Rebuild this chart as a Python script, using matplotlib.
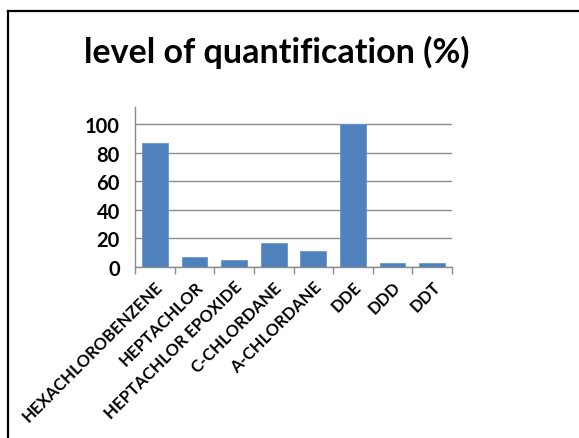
import matplotlib
matplotlib.use("Agg")
import matplotlib.pyplot as plt
from matplotlib.lines import Line2D
import numpy as np

categories = ["HEXACHLOROBENZENE", "HEPTACHLOR", "HEPTACHLOR EPOXIDE", "C-CHLORDANE",
              "A-CHLORDANE", "DDE", "DDD", "DDT"]
values = [87, 7, 4.7, 16.5, 11, 100, 2.8, 2.8]
yticks = [0, 20, 40, 60, 80, 100]
title = "level of quantification (%)"

plt.rcParams["font.family"] = ["Lato", "DejaVu Sans"]

fig = plt.figure(figsize=(5.79, 4.39), dpi=100)
fig.patch.set_facecolor("white")

# frame lines along the top and left edges
fig.add_artist(Line2D([8 / 579, 1.0], [1 - 12 / 439, 1 - 12 / 439], transform=fig.transFigure,
                      color="black", lw=1.6))
fig.add_artist(Line2D([8 / 579, 8 / 579], [0, 1 - 12 / 439], transform=fig.transFigure,
                      color="black", lw=1.6))

ax = fig.add_axes([135 / 579, 1 - 268 / 439, (452 - 135) / 579, (268 - 108) / 439])
x = np.arange(len(categories))
ax.bar(x, values, width=0.65, color="#4F81BD", edgecolor="#6A96CC", linewidth=0.6, zorder=3)

ax.set_xlim(-0.5, len(categories) - 0.5)
ax.set_ylim(0, 112)
ax.set_yticks(yticks)
ax.set_yticklabels([str(v) for v in yticks], fontsize=14.5, fontweight="bold")
ax.yaxis.grid(True, color="#8C8C8C", linewidth=1.0, zorder=0)
ax.set_axisbelow(True)

ax.set_xticks(x)
ax.set_xticklabels(categories, rotation=45, ha="right", rotation_mode="anchor",
                   fontsize=12, fontweight="bold")
ax.tick_params(axis="x", length=0, pad=8)
ax.set_xticks(np.arange(-0.5, len(categories)), minor=True)
ax.tick_params(axis="x", which="minor", length=5, color="#8C8C8C", width=1)
ax.tick_params(axis="y", length=0, pad=11)

for s in ["top", "right"]:
    ax.spines[s].set_visible(False)
for s in ["left", "bottom"]:
    ax.spines[s].set_color("#8C8C8C")
    ax.spines[s].set_linewidth(1.0)

fig.text(277 / 579, 1 - 52 / 439, title, ha="center", va="center",
         fontsize=24.5, fontweight="bold")

fig.savefig("out.png", dpi=100, facecolor="white")
